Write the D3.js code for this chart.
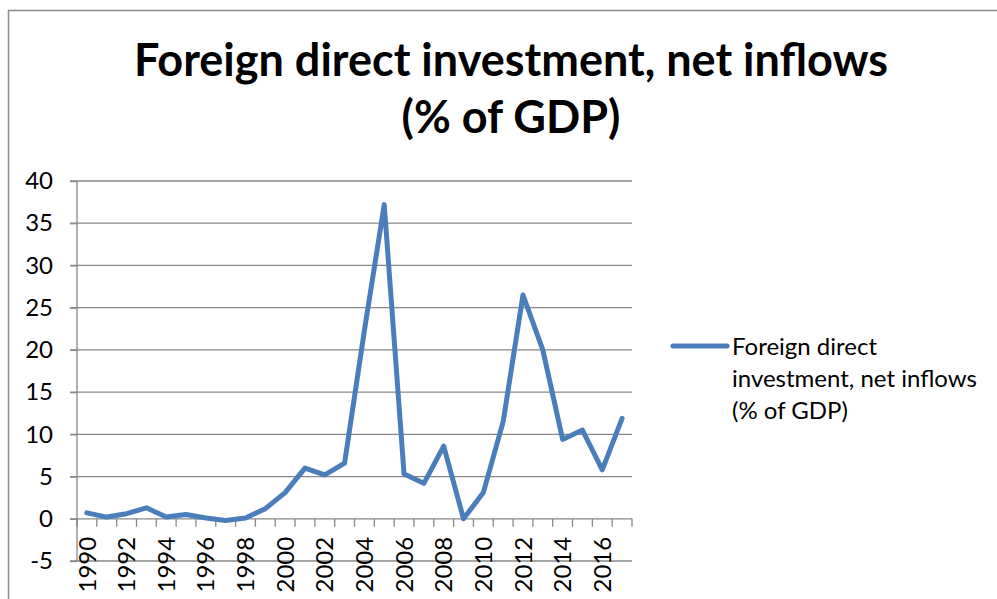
<!DOCTYPE html>
<html>
<head>
<meta charset="utf-8">
<script src="https://cdn.jsdelivr.net/npm/d3@7"></script>
<style>
  body { margin: 0; background: #fff; }
  svg { display: block; font-family: Lato, "Open Sans", sans-serif; }
</style>
</head>
<body>
<svg id="chart" width="997" height="599"></svg>
<script>
// data
const years = d3.range(1990, 2018).map(String);
const fdi = [0.7, 0.2, 0.6, 1.3, 0.2, 0.5, 0.1, -0.2, 0.1, 1.2,
             3.1, 6.0, 5.2, 6.6, 22.3, 37.2, 5.3, 4.2, 8.6, 0.0,
             3.1, 11.5, 26.5, 20.0, 9.4, 10.5, 5.8, 11.9];
const y_ticks = [-5, 0, 5, 10, 15, 20, 25, 30, 35, 40];
const x_labels = years.filter((d, i) => i % 2 === 0);
const title_lines = ["Foreign direct investment, net inflows", "(% of GDP)"];
const legend_lines = ["Foreign direct", "investment, net inflows", "(% of GDP)"];

const svg = d3.select("#chart");
const grid_color = "#878787";
const line_color = "#4a7ebb";

// frame
svg.append("path")
    .attr("d", "M8.5,599V10.5H997")
    .attr("fill", "none")
    .attr("stroke", "#8c8c8c")
    .attr("stroke-width", 1.5);

// title
svg.append("text")
    .attr("text-anchor", "middle")
    .attr("font-weight", "bold")
    .attr("font-size", 45)
    .selectAll("tspan").data(title_lines).enter().append("tspan")
    .attr("x", 511)
    .attr("y", (d, i) => 76 + i * 57)
    .text(d => d);

// scales
const x = d3.scaleBand().domain(years).range([77, 632]);
const y = d3.scaleLinear().domain([-5, 40]).range([561, 181]);

// gridlines
svg.append("g").selectAll("line").data(y_ticks).enter().append("line")
    .attr("x1", 70).attr("x2", 632)
    .attr("y1", d => y(d)).attr("y2", d => y(d))
    .attr("stroke", grid_color)
    .attr("stroke-width", 1.3);

// axis_y
const axis_y = svg.append("g")
    .attr("transform", "translate(77,0)")
    .call(d3.axisLeft(y).tickValues(y_ticks).tickFormat(d => String(d)).tickSize(7).tickPadding(17));
axis_y.selectAll("line, path").attr("stroke", grid_color).attr("stroke-width", 1.3);
axis_y.select("path").attr("d", `M0,${y(-5)}V${y(40)}`);
axis_y.selectAll("text").attr("font-size", 24).attr("font-family", "Lato").attr("fill", "#000");

// axis_x (category ticks between years)
const axis_x = svg.append("g")
    .attr("transform", `translate(0,${y(0)})`)
    .call(d3.axisBottom(x).tickValues(x_labels).tickSize(0).tickPadding(0));
axis_x.select("path").remove();
axis_x.selectAll("text")
    .attr("font-size", 24).attr("font-family", "Lato").attr("fill", "#000")
    .attr("transform", "rotate(-90)")
    .attr("text-anchor", "end")
    .attr("x", -18).attr("y", 0).attr("dy", "0.36em");
axis_x.append("g").selectAll("line").data(years.map(d => x(d)).concat([x.range()[1]])).enter().append("line")
    .attr("x1", d => d).attr("x2", d => d)
    .attr("y1", 0).attr("y2", 8)
    .attr("stroke", grid_color)
    .attr("stroke-width", 1.3);

// series line
const line = d3.line()
    .x((d, i) => x(years[i]) + x.bandwidth() / 2)
    .y(d => y(d));
svg.append("path")
    .datum(fdi)
    .attr("d", line)
    .attr("fill", "none")
    .attr("stroke", line_color)
    .attr("stroke-width", 5)
    .attr("stroke-linejoin", "round")
    .attr("stroke-linecap", "round");

// legend
svg.append("line")
    .attr("x1", 673).attr("x2", 727)
    .attr("y1", 346).attr("y2", 346)
    .attr("stroke", line_color)
    .attr("stroke-width", 5)
    .attr("stroke-linecap", "round");
svg.append("text")
    .attr("font-size", 24)
    .attr("fill", "#000")
    .selectAll("tspan").data(legend_lines).enter().append("tspan")
    .attr("x", 732)
    .attr("y", (d, i) => 355 + i * 32)
    .text(d => d);
</script>
</body>
</html>
